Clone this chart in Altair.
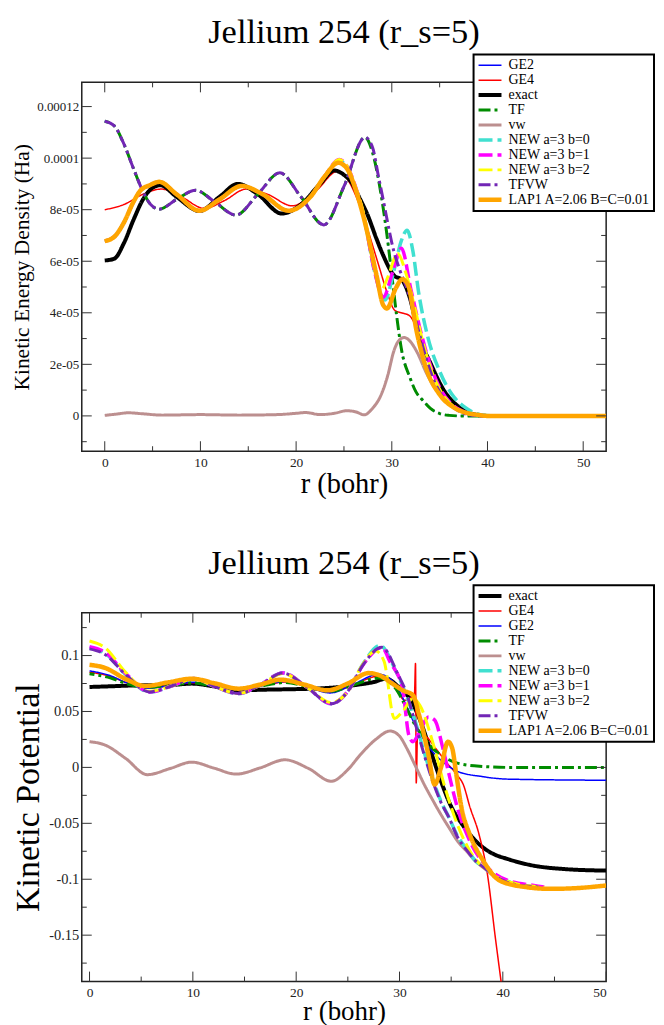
import json
import altair as alt
import pandas as pd

FONT = "Liberation Serif"
CHART_TITLE = "Jellium 254 (r_s=5)"
X_TITLE = "r (bohr)"

# ---------------- top panel: kinetic energy density (values read in units of 1e-5 Ha)
TOP_Y_TITLE = "Kinetic Energy Density (Ha)"
TOP_ORDER = ["GE2", "GE4", "exact", "TF", "vw", "NEW a=3 b=0", "NEW a=3 b=1",
             "NEW a=3 b=2", "TFVW", "LAP1 A=2.06 B=C=0.01"]
TOP_X_MAJOR = [0, 10, 20, 30, 40, 50]
TOP_X_MINOR = [5, 15, 25, 35, 45]
TOP_Y_MAJOR = [0, 2e-5, 4e-5, 6e-5, 8e-5, 1e-4, 1.2e-4]
TOP_Y_MINOR = [-1e-5, 1e-5, 3e-5, 5e-5, 7e-5, 9e-5, 1.1e-4]
TOP_Y_LABELS = ["0", "2e-05", "4e-05", "6e-05", "8e-05", "0.0001", "0.00012"]

top_tf_r = [0, 1, 2, 3, 4, 4.8, 5.7, 7.5, 9.5, 11.5, 13.7, 16, 18.3, 20.5, 22.9, 25, 27.2,
            28, 28.9, 29.5, 30, 30.5, 31, 31.9, 32.5, 33.3, 34, 35, 36, 37, 52.4]
top_tf_v = [11.43, 11.25, 10.55, 9.6, 8.7, 8.2, 8.02, 8.4, 8.75, 8.3, 7.79, 8.6, 9.43, 8.5, 7.41, 8.9, 10.81,
            10.2, 8.54, 7.0, 5.46, 3.9, 2.6, 1.48, 0.95, 0.58, 0.3, 0.09, 0.02, 0.0, 0.0]
# GE2 is not distinguishable from TF anywhere in the top panel
top_ge2_v = [11.43, 11.25, 10.55, 9.6, 8.7, 8.2, 8.02, 8.4, 8.75, 8.3, 7.79, 8.6, 9.43, 8.5, 7.41, 8.9, 10.81,
             10.2, 8.54, 7.0, 5.46, 3.9, 2.6, 1.48, 0.95, 0.58, 0.3, 0.09, 0.02, 0.0, 0.0]
top_tfvw_r = [0, 1, 2, 3, 4, 4.8, 5.7, 7.5, 9.5, 11.5, 13.7, 16, 18.3, 20.5, 22.9, 25, 27.2,
              28, 28.6, 29.2, 29.7, 30.2, 30.8, 31.7, 32.8, 33.7, 34.5, 35.5, 36.5, 37.5, 38.5, 40, 52.4]
top_tfvw_v = [11.43, 11.25, 10.55, 9.6, 8.7, 8.2, 8.02, 8.4, 8.75, 8.3, 7.79, 8.6, 9.43, 8.5, 7.41, 8.9, 10.81,
              10.4, 9.3, 8.2, 7.25, 6.4, 5.7, 4.8, 3.3, 2.1, 1.3, 0.65, 0.3, 0.1, 0.02, 0.0, 0.0]
top_vw_r = [0, 1, 2.5, 4, 6, 10, 14, 18, 20, 21, 22.5, 24, 25.3, 26.3, 27.1, 28, 28.9, 29.6, 30.2,
            30.8, 31.3, 31.9, 32.6, 33.7, 35, 36, 36.8, 38.5, 40, 52.4]
top_vw_v = [0.02, 0.06, 0.12, 0.08, 0.03, 0.05, 0.03, 0.05, 0.1, 0.13, 0.05, 0.1, 0.2, 0.15, 0.04, 0.3, 0.83,
            1.6, 2.5, 2.95, 3.04, 2.9, 2.5, 1.6, 0.83, 0.45, 0.26, 0.04, 0.0, 0.0]
top_exact_r = [0, 1, 2, 3, 4, 5, 5.8, 7.5, 9.9, 12, 13.9, 16, 18.5, 20.5, 22.5, 24, 25, 25.8, 26.7, 27.5,
               28.4, 29.1, 30.2, 31.1, 31.9, 32.8, 34.1, 35.5, 37.2, 39, 40, 52.4]
top_exact_v = [6.03, 6.1, 6.7, 7.6, 8.4, 8.85, 8.95, 8.5, 7.95, 8.5, 9.0, 8.6, 7.85, 8.2, 9.0, 9.52, 9.35, 9.05,
               8.4, 7.77, 6.87, 6.23, 5.46, 5.26, 4.56, 3.15, 2.0, 0.96, 0.3, 0.03, 0.0, 0.0]
top_ge4_r = [0, 2, 4, 5.9, 8, 10.4, 12.5, 14.8, 17, 19.6, 22, 24.4, 25.5, 26.5, 27.5, 28.5, 29.5, 30.3,
             31, 31.8, 32.5, 33.3, 34.3, 35.3, 36.3, 37.5, 39, 40.5, 52.4]
top_ge4_v = [8.0, 8.2, 8.6, 8.8, 8.5, 8.05, 8.35, 8.8, 8.6, 8.15, 8.7, 9.5, 9.1, 8.3, 7.2, 6.0, 4.8, 4.1,
             4.0, 3.9, 3.5, 2.7, 1.7, 0.95, 0.45, 0.15, 0.03, 0.0, 0.0]
top_lap1_r = [0, 1, 2, 3, 3.7, 4.7, 5.7, 7.5, 9.9, 12, 14.3, 16.5, 19.2, 21.5, 23, 24.4, 25.3, 26.2, 27.1,
              28.4, 29.1, 29.5, 30.4, 31.1, 31.7, 32.6, 33.7, 35, 36.8, 38, 39, 40, 52.4]
top_lap1_v = [6.78, 6.95, 7.5, 8.3, 8.73, 8.95, 9.08, 8.6, 7.96, 8.4, 8.92, 8.6, 7.96, 8.5, 9.3, 9.82, 9.6, 8.8,
              7.64, 5.46, 4.3, 4.17, 4.94, 5.3, 5.07, 3.27, 1.73, 0.83, 0.26, 0.1, 0.04, 0.0, 0.0]
top_new0_r = [0, 1, 2, 3, 3.7, 4.7, 5.7, 7.5, 9.9, 12, 14.3, 16.5, 19.2, 21.5, 23, 24.5, 25.3, 26.2, 27.1,
              28.2, 29.3, 30.2, 31, 31.6, 32.2, 32.8, 33.7, 35, 36.3, 37.7, 39.4, 41, 52.4]
top_new0_v = [6.78, 6.95, 7.5, 8.3, 8.73, 8.95, 9.08, 8.6, 7.96, 8.4, 8.92, 8.6, 7.96, 8.5, 9.3, 9.9, 9.65, 8.85,
              7.7, 5.6, 4.5, 5.6, 6.8, 7.2, 6.4, 4.8, 3.15, 1.73, 0.83, 0.32, 0.04, 0.0, 0.0]
top_new1_r = [0, 1, 2, 3, 3.7, 4.7, 5.7, 7.5, 9.9, 12, 14.3, 16.5, 19.2, 21.5, 23, 24.5, 25.3, 26.2, 27.1,
              28.2, 29.1, 30.1, 31, 32, 33, 34, 35, 36, 37.3, 38.5, 40, 52.4]
top_new1_v = [6.78, 6.95, 7.5, 8.3, 8.73, 8.95, 9.08, 8.6, 7.96, 8.4, 8.92, 8.6, 7.96, 8.5, 9.3, 9.95, 9.7, 8.9,
              7.7, 5.6, 4.6, 5.6, 6.5, 4.9, 3.3, 2.0, 1.1, 0.55, 0.2, 0.05, 0.0, 0.0]
top_new2_r = [0, 1, 2, 3, 3.7, 4.7, 5.7, 7.5, 9.9, 12, 14.3, 16.5, 19.2, 21.5, 23, 24.5, 25.3, 26.2, 27.1,
              28.2, 28.9, 29.6, 30.6, 31.5, 32.4, 33.3, 34.2, 35.2, 36.5, 38, 39.5, 40, 52.4]
top_new2_v = [6.78, 6.95, 7.5, 8.3, 8.73, 8.95, 9.08, 8.6, 7.96, 8.4, 8.92, 8.6, 7.96, 8.5, 9.3, 9.95, 9.7, 8.9,
              7.8, 5.7, 4.9, 5.4, 6.3, 5.5, 4.2, 2.8, 1.7, 0.9, 0.35, 0.08, 0.01, 0.0, 0.0]

# ---------------- bottom panel: kinetic potential
BOT_Y_TITLE = "Kinetic Potential"
BOT_ORDER = ["exact", "GE4", "GE2", "TF", "vw", "NEW a=3 b=0", "NEW a=3 b=1",
             "NEW a=3 b=2", "TFVW", "LAP1 A=2.06 B=C=0.01"]
BOT_X_MAJOR = [0, 10, 20, 30, 40, 50]
BOT_X_MINOR = [5, 15, 25, 35, 45]
BOT_Y_MAJOR = [-0.15, -0.1, -0.05, 0, 0.05, 0.1]
BOT_Y_MINOR = [-0.175, -0.125, -0.075, -0.025, 0.025, 0.075, 0.125]
BOT_Y_LABELS = ["-0.15", "-0.1", "-0.05", "0", "0.05", "0.1"]

bot_exact_r = [0, 2, 5, 7.5, 9.9, 12, 14.4, 17, 20.1, 22, 24.2, 26, 27.5, 28.7, 29.9, 31.1, 32, 33, 34,
               35, 36, 37, 38, 39, 40.5, 43, 45.8, 50]
bot_exact_v = [0.0719, 0.0725, 0.0734, 0.0735, 0.0749, 0.0725, 0.0689, 0.0695, 0.07, 0.0705, 0.0719, 0.074,
               0.0763, 0.0793, 0.072, 0.06, 0.042, 0.015, -0.012, -0.035, -0.05, -0.062, -0.071, -0.077,
               -0.082, -0.0879, -0.0908, -0.0923]
bot_tf_r = [0, 2, 3.5, 5.5, 8, 10, 12, 14.5, 17, 19, 21, 23.3, 25.5, 28, 29.5, 30.7, 31.5, 32.4, 33.2, 34,
            35.6, 38, 40.5, 50]
bot_tf_v = [0.0837, 0.08, 0.075, 0.0715, 0.0735, 0.0755, 0.0725, 0.07, 0.0735, 0.076, 0.0725, 0.068, 0.0735,
            0.08, 0.072, 0.0527, 0.038, 0.026, 0.017, 0.0112, 0.0038, 0.0009, 0.0, 0.0]
bot_ge2_v = [0.0863, 0.082, 0.076, 0.0708, 0.0735, 0.076, 0.0722, 0.0693, 0.0737, 0.0768, 0.0722, 0.0666,
             0.0742, 0.0833, 0.0754, 0.0546, 0.038, 0.0243, 0.014, 0.0065, -0.0035, -0.0082, -0.0105, -0.0115]
bot_ge4_r = [0, 2, 3.5, 5.5, 8, 10, 12, 14.5, 17, 19, 21, 23.3, 25.5, 28, 29.5, 30.5, 31.45, 31.55, 31.62,
             31.75, 32.5, 33.5, 34.5, 35.5, 36.2, 36.8, 37.7, 38.5, 39.3, 40.1]
bot_ge4_v = [0.085, 0.0815, 0.076, 0.0712, 0.0735, 0.0757, 0.0724, 0.0697, 0.0736, 0.0764, 0.0724, 0.0672,
             0.0738, 0.0815, 0.074, 0.06, 0.066, 0.093, -0.014, 0.03, 0.028, 0.017, 0.005, -0.006, -0.016,
             -0.035, -0.06, -0.095, -0.154, -0.21]
bot_vw_r = [0, 1.5, 3.5, 5.6, 7.8, 9.9, 12, 14.2, 16.5, 18.9, 21.2, 23.4, 25, 26.2, 27.7, 29.1, 30, 30.7,
            31.5, 32.4, 33.2, 34, 34.8, 35.6, 36.5, 37.3, 38.3, 39.3, 40.5, 41.7, 43.8]
bot_vw_v = [0.023, 0.02, 0.008, -0.0065, -0.001, 0.0047, -0.0005, -0.006, -0.0005, 0.0068, -0.001, -0.0124,
            -0.002, 0.0112, 0.025, 0.0325, 0.028, 0.0172, 0.002, -0.0154, -0.029, -0.042, -0.054, -0.0657,
            -0.075, -0.0834, -0.091, -0.0982, -0.103, -0.1056, -0.107]
bot_tfvw_r = [0, 1.5, 3.5, 5.8, 8, 10.1, 12.2, 14.4, 16.5, 18.7, 21, 23.4, 25, 26.5, 28.3, 29.9, 30.7, 31.5,
              32.4, 33.2, 34, 34.8, 35.6, 36.5, 37.3, 38.3, 39.3, 40.5, 41.7, 43.8]
bot_tfvw_v = [0.106, 0.101, 0.083, 0.0675, 0.073, 0.0793, 0.072, 0.066, 0.0735, 0.0843, 0.072, 0.057, 0.068,
              0.092, 0.1074, 0.0822, 0.066, 0.04, 0.011, -0.012, -0.031, -0.045, -0.062, -0.074, -0.083,
              -0.0905, -0.0975, -0.103, -0.1056, -0.107]
bot_new0_r = [0, 1.5, 3.5, 5.8, 8, 10.1, 12.2, 14.4, 16.5, 18.7, 21, 23.4, 25, 26.5, 28.1, 29.7, 30.6, 31.5,
              32.4, 33.2, 34, 34.8, 35.6, 36.5, 37.3, 38.3, 39.3, 40.5, 41.7, 43.8]
bot_new0_v = [0.107, 0.102, 0.083, 0.0672, 0.073, 0.0795, 0.072, 0.0658, 0.0737, 0.0845, 0.072, 0.0568, 0.068,
              0.093, 0.109, 0.085, 0.066, 0.042, 0.013, -0.01, -0.03, -0.045, -0.061, -0.073, -0.083, -0.09,
              -0.097, -0.102, -0.1056, -0.107]
bot_new1_r = [0, 1.5, 3.5, 5.8, 8, 10.1, 12.2, 14.4, 16.5, 18.7, 21, 23.4, 25, 26.5, 28.3, 29.1, 30.3, 30.9,
              31.3, 32.1, 32.8, 33.4, 34.2, 34.8, 35.6, 36.8, 38.5, 40.5, 43, 44]
bot_new1_v = [0.108, 0.103, 0.084, 0.0675, 0.073, 0.0795, 0.072, 0.066, 0.0737, 0.0845, 0.072, 0.057, 0.068,
              0.092, 0.107, 0.094, 0.0704, 0.029, 0.023, 0.035, 0.045, 0.0423, 0.017, -0.0065, -0.036,
              -0.0657, -0.0893, -0.1012, -0.1056, -0.107]
bot_new2_r = [0, 1.5, 3.5, 5.8, 8, 10.1, 12.2, 14.4, 16.5, 18.7, 21, 23.4, 25, 26.3, 27.7, 28.5, 29.5, 30.3,
              31.3, 32, 33.2, 34.4, 35.6, 36.8, 38.9, 41.3, 44]
bot_new2_v = [0.113, 0.107, 0.085, 0.068, 0.073, 0.079, 0.072, 0.066, 0.0735, 0.084, 0.072, 0.058, 0.068,
              0.09, 0.104, 0.095, 0.0438, 0.05, 0.0615, 0.055, 0.023, -0.018, -0.051, -0.0746, -0.095,
              -0.104, -0.107]
bot_lap1_r = [0, 1.5, 3.5, 5.4, 7.6, 9.9, 12.2, 14.4, 16.5, 18.5, 20.8, 23, 25, 27, 28.1, 29.1, 30.3, 31.3,
              31.9, 32.8, 33.4, 34, 34.7, 35.1, 35.5, 36, 36.8, 38.1, 39.7, 42.2, 44.6, 47, 50]
bot_lap1_v = [0.0917, 0.089, 0.079, 0.0728, 0.076, 0.0793, 0.075, 0.0704, 0.074, 0.0784, 0.074, 0.0689, 0.075,
              0.0843, 0.0822, 0.0763, 0.069, 0.0645, 0.0467, 0.0112, -0.0154, -0.0006, 0.023, 0.0172, -0.0065,
              -0.036, -0.06, -0.0834, -0.1012, -0.107, -0.1086, -0.108, -0.1056]

# ---------------- styles
LAP = "LAP1 A=2.06 B=C=0.01"
COLORS = {"GE2": "#0000ff", "GE4": "#ff0000", "exact": "#000000", "TF": "#008c00", "vw": "#bc8f8f",
          "NEW a=3 b=0": "#40e0d0", "NEW a=3 b=1": "#ff00ff", "NEW a=3 b=2": "#ffff00",
          "TFVW": "#7226b5", LAP: "#ffa500"}
WIDTHS = {"GE2": 1.5, "GE4": 1.5, "exact": 4, "TF": 3, "vw": 3, "NEW a=3 b=0": 3.5,
          "NEW a=3 b=1": 3.5, "NEW a=3 b=2": 3, "TFVW": 3, LAP: 4.5}
DASHES = {"GE2": [1, 0], "GE4": [1, 0], "exact": [1, 0], "TF": [12, 4, 3, 4], "vw": [1, 0],
          "NEW a=3 b=0": [14, 5], "NEW a=3 b=1": [14, 5], "NEW a=3 b=2": [14, 5],
          "TFVW": [12, 4, 3, 4], LAP: [1, 0]}
DASH_OFFSET = {"TF": 7}

W, H = 526, 370
TICK_COLOR = "#333333"


def build(series):
    rows = []
    for name, rs, vs, k in series:
        for r, v in zip(rs, vs):
            rows.append({"series": name, "r": r, "v": v * k})
    return pd.DataFrame(rows)


top_df = build([
    ("GE2", top_tf_r, top_ge2_v, 1e-5), ("GE4", top_ge4_r, top_ge4_v, 1e-5),
    ("exact", top_exact_r, top_exact_v, 1e-5), ("TF", top_tf_r, top_tf_v, 1e-5),
    ("vw", top_vw_r, top_vw_v, 1e-5), ("NEW a=3 b=0", top_new0_r, top_new0_v, 1e-5),
    ("NEW a=3 b=1", top_new1_r, top_new1_v, 1e-5), ("NEW a=3 b=2", top_new2_r, top_new2_v, 1e-5),
    ("TFVW", top_tfvw_r, top_tfvw_v, 1e-5), (LAP, top_lap1_r, top_lap1_v, 1e-5),
])
bot_df = build([
    ("exact", bot_exact_r, bot_exact_v, 1), ("GE4", bot_ge4_r, bot_ge4_v, 1),
    ("GE2", bot_tf_r, bot_ge2_v, 1), ("TF", bot_tf_r, bot_tf_v, 1),
    ("vw", bot_vw_r, bot_vw_v, 1), ("NEW a=3 b=0", bot_new0_r, bot_new0_v, 1),
    ("NEW a=3 b=1", bot_new1_r, bot_new1_v, 1), ("NEW a=3 b=2", bot_new2_r, bot_new2_v, 1),
    ("TFVW", bot_tfvw_r, bot_tfvw_v, 1), (LAP, bot_lap1_r, bot_lap1_v, 1),
])


def width_expr(order):
    parts = "".join(f"datum.value=={json.dumps(s)}?{WIDTHS[s]}:" for s in order)
    return "(" + parts + "2)"


def panel(df, order, x_dom, y_dom, x_major, x_minor, y_major, y_minor, label_expr,
          y_title, y_title_size, y_label_size, x_title_size, x_title_pad, legend_x, legend_y,
          hide_under_tf=()):
    xscale = alt.Scale(domain=x_dom, nice=False, zero=False)
    yscale = alt.Scale(domain=y_dom, nice=False, zero=False)
    xaxis = alt.Axis(values=x_major, title=X_TITLE, titleFontSize=x_title_size, labelFontSize=13.5,
                     labelPadding=4, titlePadding=x_title_pad, format="d", labelFont=FONT, titleFont=FONT)
    yaxis = alt.Axis(values=y_major, title=y_title, titleFontSize=y_title_size, labelFontSize=y_label_size,
                     labelPadding=3, titlePadding=3, labelExpr=label_expr, labelFont=FONT, titleFont=FONT)
    legend = alt.Legend(orient="none", legendX=legend_x, legendY=legend_y, title=None,
                        fillColor="white", strokeColor="black", padding=4,
                        symbolType="stroke", symbolSize=529,
                        symbolStrokeWidth=alt.ExprRef(expr=width_expr(order)),
                        clipHeight=13.6, rowPadding=0, labelOffset=6, labelLimit=400,
                        labelFont=FONT, labelFontSize=14, labelColor="black")
    color = alt.Color("series:N", scale=alt.Scale(domain=order, range=[COLORS[s] for s in order]),
                      legend=legend)
    dash = alt.StrokeDash("series:N", scale=alt.Scale(domain=order, range=[DASHES[s] for s in order]),
                          legend=legend)
    layers = []
    for s in order:
        mk = dict(strokeWidth=WIDTHS[s], clip=True, interpolate="monotone", strokeCap="butt")
        enc = dict(x=alt.X("r:Q", scale=xscale, axis=xaxis), y=alt.Y("v:Q", scale=yscale, axis=yaxis),
                   color=color)
        if s in hide_under_tf:
            # drawn with TF's own dash so that it stays hidden beneath TF, as in the picture
            mk["strokeDash"] = DASHES["TF"]
            mk["strokeDashOffset"] = DASH_OFFSET["TF"]
        else:
            enc["strokeDash"] = dash
            if s in DASH_OFFSET:
                mk["strokeDashOffset"] = DASH_OFFSET[s]
        layers.append(alt.Chart(df).transform_filter(alt.datum.series == s).mark_line(**mk).encode(**enc))
    # inward-pointing ticks on all four sides
    for vals, ln in ((x_major, 10), (x_minor, 5)):
        d = pd.DataFrame({"t": vals})
        base = alt.Chart(d).mark_rule(color=TICK_COLOR, strokeWidth=1)
        xe = alt.X("t:Q", scale=xscale, axis=xaxis)
        layers.append(base.encode(x=xe, y=alt.value(H), y2=alt.value(H - ln)))
        layers.append(base.encode(x=xe, y=alt.value(0), y2=alt.value(ln)))
    for vals, ln in ((y_major, 10), (y_minor, 5)):
        d = pd.DataFrame({"t": vals})
        base = alt.Chart(d).mark_rule(color=TICK_COLOR, strokeWidth=1)
        ye = alt.Y("t:Q", scale=yscale, axis=yaxis)
        layers.append(base.encode(y=ye, x=alt.value(0), x2=alt.value(ln)))
        layers.append(base.encode(y=ye, x=alt.value(W), x2=alt.value(W - ln)))
    return alt.layer(*layers).properties(
        width=W, height=H,
        title=alt.TitleParams(CHART_TITLE, font=FONT, fontSize=34.5, fontWeight="normal", color="black",
                              anchor="middle", frame="group", offset=3),
    )


top_expr = "[" + ",".join(json.dumps(s) for s in TOP_Y_LABELS) + "][round(datum.value/2e-5)]"
bot_expr = "[" + ",".join(json.dumps(s) for s in BOT_Y_LABELS) + "][round((datum.value+0.15)/0.05)]"

top = panel(top_df, TOP_ORDER, [-2.4, 52.4], [-1.37e-5, 1.294e-4], TOP_X_MAJOR, TOP_X_MINOR,
            TOP_Y_MAJOR, TOP_Y_MINOR, top_expr, TOP_Y_TITLE, 21.5, 13, 28.5, 1, 393, -28,
            hide_under_tf=("GE2",))
bottom = panel(bot_df, BOT_ORDER, [-0.75, 50], [-0.1915, 0.1383], BOT_X_MAJOR, BOT_X_MINOR,
               BOT_Y_MAJOR, BOT_Y_MINOR, bot_expr, BOT_Y_TITLE, 34, 14.5, 27, 0, 393, -27.5)

chart = alt.vconcat(top, bottom, spacing=46).resolve_scale(
    color="independent", strokeDash="independent"
).resolve_legend(color="independent", strokeDash="independent").properties(
    padding={"left": 3, "top": 4, "right": 0, "bottom": 2}
).configure(font=FONT).configure_view(stroke="#222222", strokeWidth=1.5).configure_axis(
    labelFont=FONT, titleFont=FONT, titleFontWeight="normal", titleColor="black", labelColor="#222222",
    grid=False, domain=False, ticks=False, tickSize=0
).configure_legend(labelFont=FONT, strokeWidth=2).configure_title(font=FONT)

chart.save("out.html", embed_options={"renderer": "svg", "actions": False})
